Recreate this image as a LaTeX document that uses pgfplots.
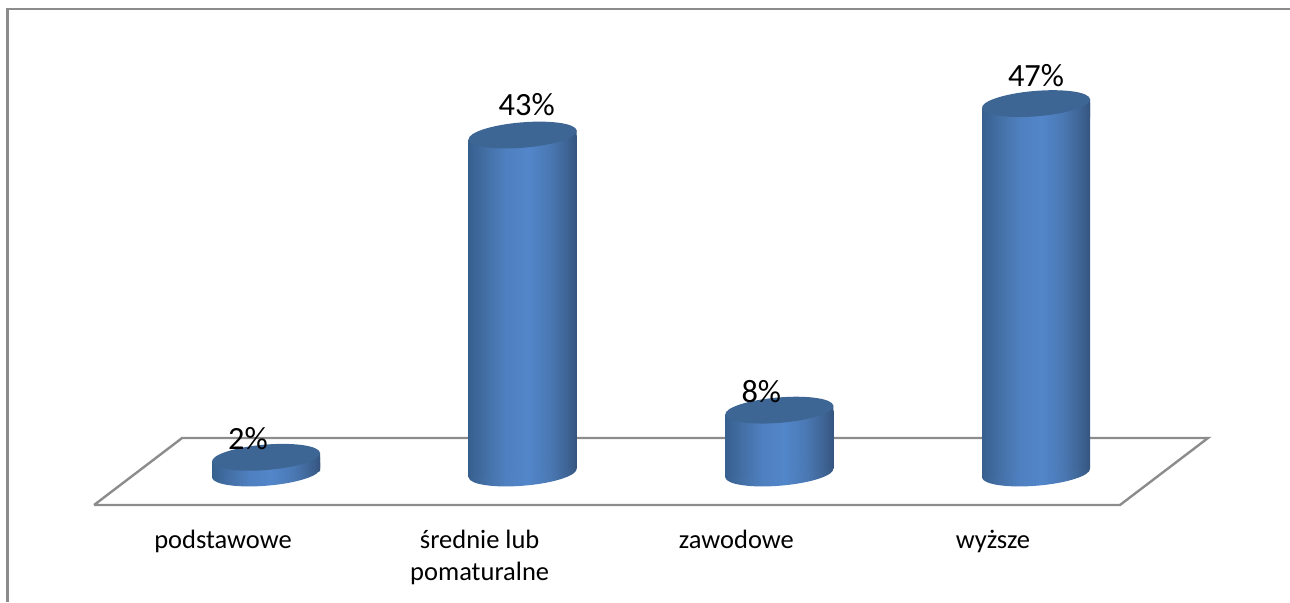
\documentclass[border=0pt]{standalone}
\usepackage{pgfplots}
\pgfplotsset{compat=1.18}
\usepackage{fontspec}
\setmainfont{Carlito}
\definecolor{capblue}{HTML}{3E6695}
\definecolor{framegray}{HTML}{8C8C8C}
\definecolor{cyl0}{HTML}{37608F}
\definecolor{cyl1}{HTML}{4673AB}
\definecolor{cyl2}{HTML}{4F80C0}
\definecolor{cyl3}{HTML}{5286CA}
\definecolor{cyl4}{HTML}{4A78B3}
\definecolor{cyl5}{HTML}{3F6596}
\definecolor{cyl6}{HTML}{35557F}
\pgfdeclarehorizontalshading{cyl}{100bp}{
  color(0bp)=(cyl0);
  color(25bp)=(cyl0);
  color(35bp)=(cyl1);
  color(42.5bp)=(cyl2);
  color(52.5bp)=(cyl3);
  color(62.5bp)=(cyl4);
  color(70bp)=(cyl5);
  color(75bp)=(cyl6);
  color(100bp)=(cyl6)}
% wall between the tilted rim and a level edge at height #1 (relative to the mark)
\newcommand{\wallpatch}[1]{%
  \pgfpathmoveto{\pgfpoint{-27pt}{-2.3pt}}%
  \pgfpathlineto{\pgfpoint{27pt}{2.3pt}}%
  \pgfpathlineto{\pgfpoint{27pt}{#1}}%
  \pgfpathlineto{\pgfpoint{-27pt}{#1}}%
  \pgfpathclose
  \pgfshadepath{cyl}{0}\pgfusepath{discard}}
% top of a cylinder: the bar's level corner beyond the tilted rim is cleared
\pgfdeclareplotmark{cylcap}{%
  \pgfsetfillcolor{white}%
  \pgfpathmoveto{\pgfpoint{-27.6pt}{-2.3pt}}%
  \pgfpathlineto{\pgfpoint{-27.6pt}{0.4pt}}%
  \pgfpathlineto{\pgfpoint{0pt}{0.4pt}}%
  \pgfpathlineto{\pgfpoint{0pt}{0pt}}%
  \pgfpathclose
  \pgfusepath{fill}%
  \wallpatch{-7pt}%
  \pgfsetfillcolor{capblue}%
  \pgfpathellipse{\pgfpointorigin}{\pgfpoint{27pt}{2.3pt}}{\pgfpoint{-0.9pt}{6.3pt}}%
  \pgfusepath{fill}}
% foot of a cylinder, likewise
\pgfdeclareplotmark{cylbase}{%
  \pgfsetfillcolor{white}%
  \pgfpathmoveto{\pgfpoint{27.6pt}{2.3pt}}%
  \pgfpathlineto{\pgfpoint{27.6pt}{-0.4pt}}%
  \pgfpathlineto{\pgfpoint{0pt}{-0.4pt}}%
  \pgfpathlineto{\pgfpoint{0pt}{0pt}}%
  \pgfpathclose
  \pgfusepath{fill}%
  \pgfpathellipse{\pgfpointorigin}{\pgfpoint{27pt}{2.3pt}}{\pgfpoint{-0.9pt}{6.3pt}}%
  \pgfshadepath{cyl}{0}\pgfusepath{discard}%
  \wallpatch{5pt}}
\begin{document}
\begin{tikzpicture}[x=1pt,y=1pt]
\useasboundingbox (0,0) rectangle (645,301);
\draw[framegray,line width=1.3pt] (3.6,0) -- (3.6,296.6) -- (645,296.6);
\begin{axis}[
  at={(0pt,48.5pt)},anchor=south west,
  scale only axis,width=645pt,height=252.5pt,
  xmin=-1.03636,xmax=3.9896,ymin=-4.07,ymax=60.18,
  clip=false,
  axis line style={draw=none},
  major tick length=0pt,
  ytick=\empty,
  xtick={0,1,2,3},
  xticklabels={podstawowe,{średnie lub\\pomaturalne},zawodowe,wyższe},
  x tick label style={align=center,xshift=-21.5pt,yshift=-9pt,
    font=\fontsize{13.25}{16}\selectfont,text=black},
  /pgf/number format/assume math mode=true,
]
% floor
\addplot[framegray,line width=1.2pt,mark=none,line join=miter] coordinates
  {(-0.670,-4.07) (3.327,-4.07) (3.670,4.45) (-0.327,4.45) (-0.670,-4.07)};
% cylinder walls, one plot each so that each has its own shading
\addplot[ybar,bar width=54pt,draw=none,shade,shading=cyl] coordinates {(0,2)};
\addplot[ybar,bar width=54pt,draw=none,shade,shading=cyl] coordinates {(1,43)};
\addplot[ybar,bar width=54pt,draw=none,shade,shading=cyl] coordinates {(2,8)};
\addplot[ybar,bar width=54pt,draw=none,shade,shading=cyl] coordinates {(3,47)};
% cylinder feet
\addplot[only marks,mark=cylbase] coordinates {(0,0) (1,0) (2,0) (3,0)};
% cylinder tops
\addplot[only marks,mark=cylcap] coordinates {(0,2) (1,43) (2,8) (3,47)};
% data labels
\addplot[draw=none,mark=none,
  visualization depends on={\thisrow{dx} \as \dx},
  visualization depends on={\thisrow{dy} \as \dy},
  nodes near coords={\pgfmathprintnumber{\pgfplotspointmeta}\%},
  every node near coord/.append style={anchor=base,inner sep=0pt,
    font=\fontsize{16.2}{18}\selectfont,text=black,
    xshift=\dx pt,yshift=\dy pt},
  point meta=y] table {
x y dx dy
0 2 -9 4
1 43 2 10
2 8 -9 4
3 47 0 8.75
};
\end{axis}
\end{tikzpicture}
\end{document}
